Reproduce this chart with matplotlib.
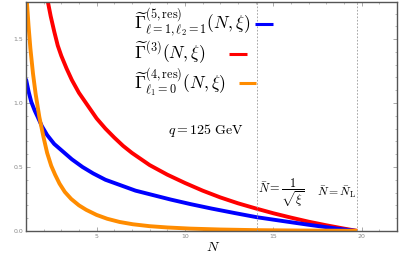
import numpy as np
import matplotlib
matplotlib.use('Agg')
import matplotlib.pyplot as plt
from matplotlib.ticker import MultipleLocator

plt.rcParams['mathtext.fontset'] = 'cm'

# values
n_red = [2.23, 2.4, 2.6, 2.8, 3.0, 3.3, 3.6, 4.0, 4.5, 5.0, 5.5, 6.0, 6.5, 7.0, 8.0, 9.0,
         10.0, 11.0, 12.0, 13.0, 14.0, 15.0, 16.0, 17.0, 18.0, 19.0, 19.75]
g3 = [1.80, 1.68, 1.56, 1.45, 1.37, 1.27, 1.18, 1.08, 0.98, 0.88, 0.80, 0.73, 0.665, 0.61, 0.515, 0.44,
      0.375, 0.315, 0.262, 0.216, 0.176, 0.138, 0.104, 0.072, 0.044, 0.018, 0.0]

n_blue = [1.0, 1.15, 1.3, 1.5, 1.67, 1.9, 2.2, 2.6, 3.1, 3.6, 4.2, 4.8, 5.5, 6.3, 7.2, 8.2,
          9.2, 10.3, 11.5, 12.8, 14.07, 15.5, 17.0, 18.5, 19.7]
g5 = [1.19, 1.09, 1.01, 0.94, 0.89, 0.82, 0.75, 0.68, 0.62, 0.56, 0.50, 0.45, 0.40, 0.36, 0.315, 0.28,
      0.245, 0.21, 0.175, 0.14, 0.107, 0.078, 0.048, 0.02, 0.0]

n_orange = [1.05, 1.15, 1.25, 1.4, 1.55, 1.76, 2.0, 2.2, 2.43, 2.65, 2.9, 3.2, 3.56, 4.0, 4.41,
            5.0, 5.6, 6.3, 7.05, 8.0, 9.0, 10.3, 12.0, 14.0, 16.5, 19.75]
g4 = [1.80, 1.60, 1.43, 1.23, 1.07, 0.89, 0.73, 0.61, 0.51, 0.44, 0.37, 0.305, 0.25, 0.20, 0.165,
      0.125, 0.095, 0.07, 0.052, 0.037, 0.027, 0.018, 0.011, 0.006, 0.003, 0.001]

n_sqrt_xi = 14.07
n_l = 19.75

labels = [r'$\widetilde{\Gamma}^{(5,\mathrm{res})}_{\ell=1,\ell_2=1}(N,\xi)$',
          r'$\widetilde{\Gamma}^{(3)}(N,\xi)$',
          r'$\widetilde{\Gamma}^{(4,\mathrm{res})}_{\ell_1=0}(N,\xi)$']
colors = ['#0000ff', '#ff0000', '#ff8c00']

fig = plt.figure(figsize=(3.99, 2.56), dpi=100)
ax = fig.add_axes([0.065, 0.098, 0.93, 0.894])

ax.plot(n_red, g3, color=colors[1], lw=2.8, solid_capstyle='butt', solid_joinstyle='round')
ax.plot(n_blue, g5, color=colors[0], lw=2.8, solid_capstyle='butt', solid_joinstyle='round')
ax.plot(n_orange, g4, color=colors[2], lw=2.8, solid_capstyle='butt', solid_joinstyle='round')

for xv in [n_sqrt_xi, n_l]:
    ax.axvline(xv, color='#999999', lw=0.6, ls=(0, (2, 2)))

ax.set_xlim(1.0, 22.0)
ax.set_ylim(0, 1.79)

ax.xaxis.set_major_locator(MultipleLocator(5))
ax.xaxis.set_minor_locator(MultipleLocator(1))
ax.yaxis.set_minor_locator(MultipleLocator(0.1))
ax.set_yticks([0, 0.5, 1.0, 1.5])
ax.set_yticklabels(['0.0', '0.5', '1.0', '1.5'])
ax.tick_params(which='both', direction='in', top=True, right=True,
               color='#888888', labelcolor='#888888', labelsize=4.5, pad=2)
ax.tick_params(which='major', length=3, width=0.5)
ax.tick_params(which='minor', length=1.5, width=0.4)
for s in ax.spines.values():
    s.set_color('#555555')
    s.set_linewidth(1.0)

# legend: text plus short coloured bar (positions in axes fractions)
ys = [0.905, 0.775, 0.645]
bars = [(0.617, 0.666), (0.547, 0.596), (0.574, 0.620)]
for lab, col, y, (x0, x1) in zip(labels, colors, ys, bars):
    ax.text(0.291, y + 0.005, lab, transform=ax.transAxes, fontsize=12.5, va='center', ha='left')
    ax.plot([x0, x1], [y, y], transform=ax.transAxes, color=col, lw=2.2, solid_capstyle='butt')

ax.text(0.383, 0.44, r'$q=125\ \mathrm{GeV}$', transform=ax.transAxes,
        fontsize=10, va='center', ha='left')
ax.text(0.625, 0.165, r'$\bar{N}=\dfrac{1}{\sqrt{\xi}}$', transform=ax.transAxes,
        fontsize=8.8, va='center', ha='left')
ax.text(0.785, 0.17, r'$\bar{N}=\bar{N}_{\mathrm{L}}$', transform=ax.transAxes,
        fontsize=8.5, va='center', ha='left')

fig.text(0.534, 0.035, r'$N$', fontsize=10, ha='center', va='center')

plt.savefig('out.png', dpi=100)
plt.close()
